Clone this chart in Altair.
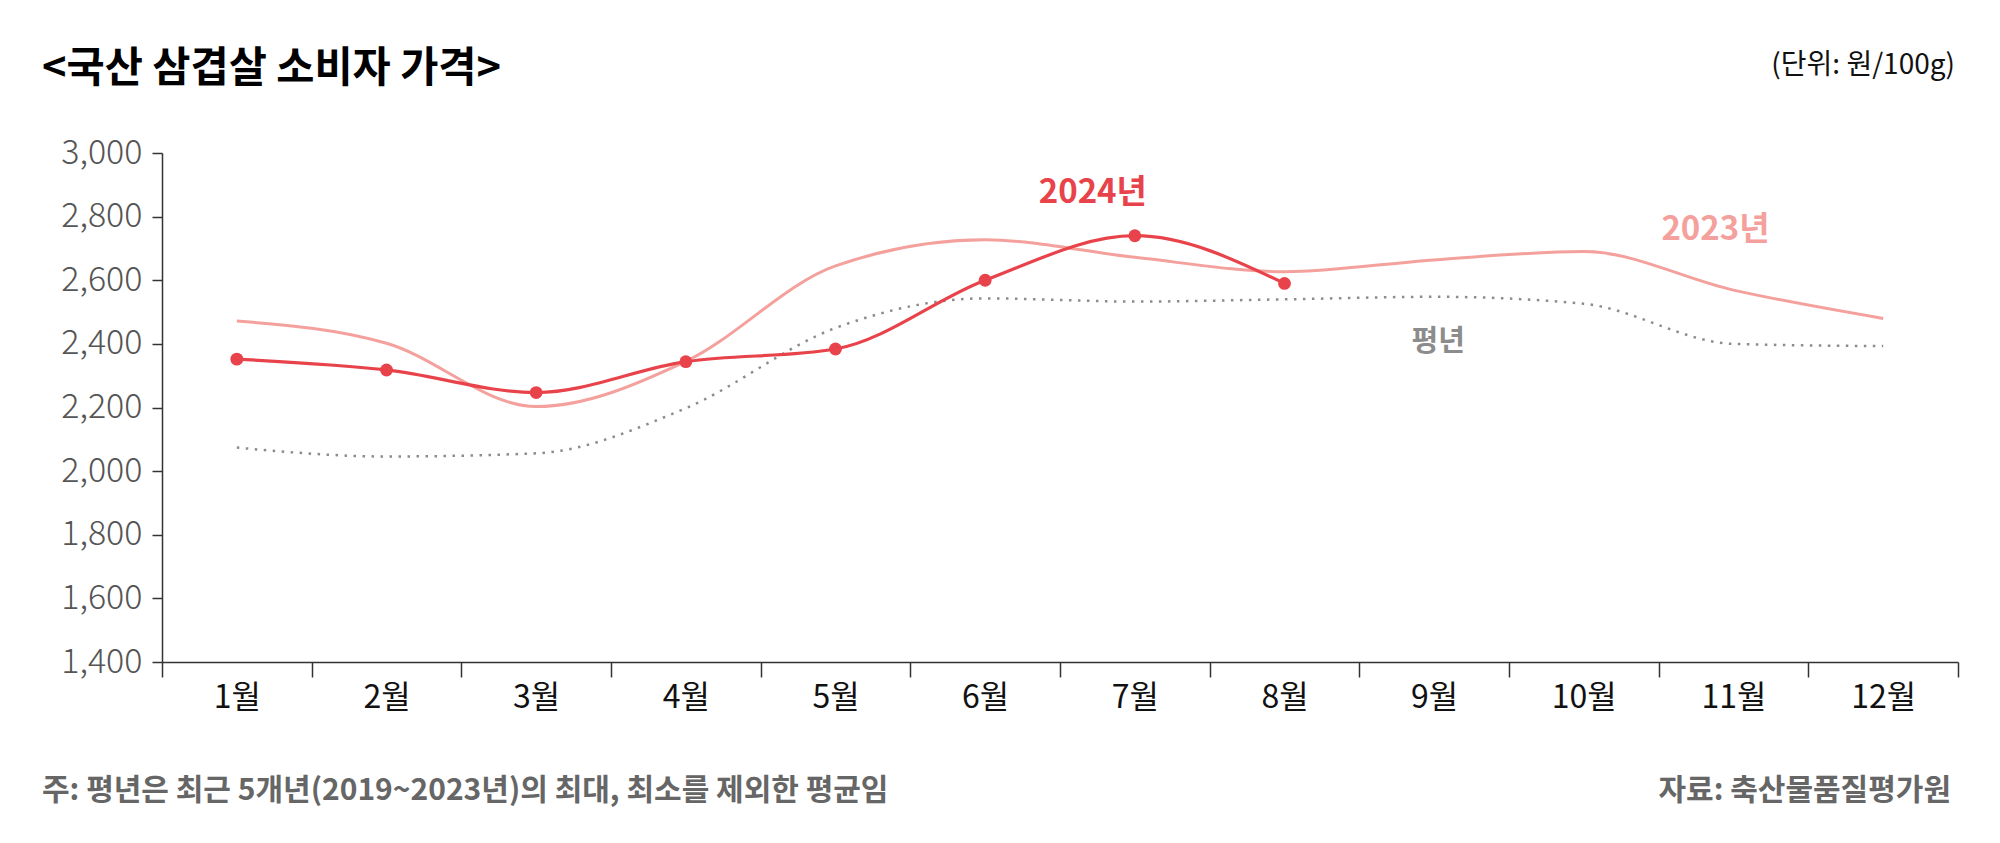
import altair as alt
import pandas as pd

# ---------------- data ----------------
months = ["1월", "2월", "3월", "4월", "5월", "6월", "7월", "8월", "9월", "10월", "11월", "12월"]
months_2024 = ["1월", "2월", "3월", "4월", "5월", "6월", "7월", "8월"]
price_2024 = [2352, 2318, 2247, 2344, 2384, 2600, 2740, 2590]
price_2023 = [2472, 2402, 2203, 2345, 2645, 2727, 2672, 2627, 2664, 2690, 2569, 2480]
price_avg = [2074, 2046, 2056, 2198, 2450, 2543, 2533, 2540, 2548, 2526, 2400, 2393]
y_ticks = [1400, 1600, 1800, 2000, 2200, 2400, 2600, 2800, 3000]

title_text = "<국산 삼겹살 소비자 가격>"
unit_text = "(단위: 원/100g)"
note_text = "주: 평년은 최근 5개년(2019~2023년)의 최대, 최소를 제외한 평균임"
source_text = "자료: 축산물품질평가원"

FONT = "Noto Sans CJK KR"
C2024 = "#e8434a"
C2023 = "#f4a19d"
CAVG = "#8c8c8c"

W, H = 1796, 509

df24 = pd.DataFrame({"month": months_2024, "value": price_2024})
df23 = pd.DataFrame({"month": months, "value": price_2023})
dfav = pd.DataFrame({"month": months, "value": price_avg})

xscale = alt.Scale(type="band", domain=months, paddingInner=0, paddingOuter=0)
yscale = alt.Scale(domain=[1400, 3000], nice=False, zero=False)

x_axis = alt.Axis(
    title=None, labelAngle=0, tickBand="extent", tickSize=15, tickWidth=1.5,
    tickColor="#333333", domainColor="#333333", domainWidth=1.5,
    labelFontSize=32, labelColor="#111111", labelFont=FONT, labelPadding=5,
    labelBaseline="top",
)
y_axis = alt.Axis(
    title=None, values=y_ticks, format=",.0f", grid=False, tickSize=10, tickWidth=1.5,
    tickColor="#333333", domainColor="#333333", domainWidth=1.5,
    labelFontSize=34, labelColor="#555555", labelFont=FONT, labelPadding=10,
    labelFontWeight=300,
)

X = alt.X("month:N", scale=xscale, axis=x_axis, sort=months, bandPosition=0.5)
Y = alt.Y("value:Q", scale=yscale, axis=y_axis)

avg_line = alt.Chart(dfav).mark_line(
    color=CAVG, strokeWidth=2.5, strokeDash=[2.5, 6.5], interpolate="monotone"
).encode(x=X, y=Y)

line23 = alt.Chart(df23).mark_line(
    color=C2023, strokeWidth=3, interpolate="monotone"
).encode(x=X, y=Y)

line24 = alt.Chart(df24).mark_line(
    color=C2024, strokeWidth=3.2, interpolate="monotone"
).encode(x=X, y=Y)

pts24 = alt.Chart(df24).mark_circle(color=C2024, size=165, opacity=1).encode(x=X, y=Y)

def series_label(text, month, value, dx, color, size):
    d = pd.DataFrame({"month": [month], "value": [value], "t": [text]})
    return alt.Chart(d).mark_text(
        font=FONT, fontSize=size, fontWeight="bold", color=color, dx=dx,
        align="center", baseline="middle"
    ).encode(x=X, y=Y, text="t:N")

lab24 = series_label("2024년", "7월", 2875, -42, C2024, 33)
lab23 = series_label("2023년", "11월", 2758, -18, C2023, 33)
labav = series_label("평년", "9월", 2406, 4, CAVG, 29)

def free_text(text, x, y, size, color, weight, align):
    d = pd.DataFrame({"t": [text]})
    return alt.Chart(d).mark_text(
        font=FONT, fontSize=size, fontWeight=weight, color=color,
        align=align, baseline="middle"
    ).encode(x=alt.value(x), y=alt.value(y), text="t:N")

title = free_text(title_text, -120, -83, 41.5, "#000000", "bold", "left")
unit = free_text(unit_text, 1793, -87, 28, "#111111", "normal", "right")
note = free_text(note_text, -120, 638, 30, "#666666", "bold", "left")
source = free_text(source_text, 1789, 638, 30, "#666666", "bold", "right")

chart = alt.layer(
    avg_line, line23, line24, pts24, lab24, lab23, labav, title, unit, note, source
).properties(
    width=W, height=H,
    padding={"left": 154, "top": 145, "right": 34, "bottom": 173},
    autosize=alt.AutoSizeParams(type="none"),
    background="white",
).configure_view(stroke=None)

chart.save("out.html", embed_options={"renderer": "svg", "actions": False})
